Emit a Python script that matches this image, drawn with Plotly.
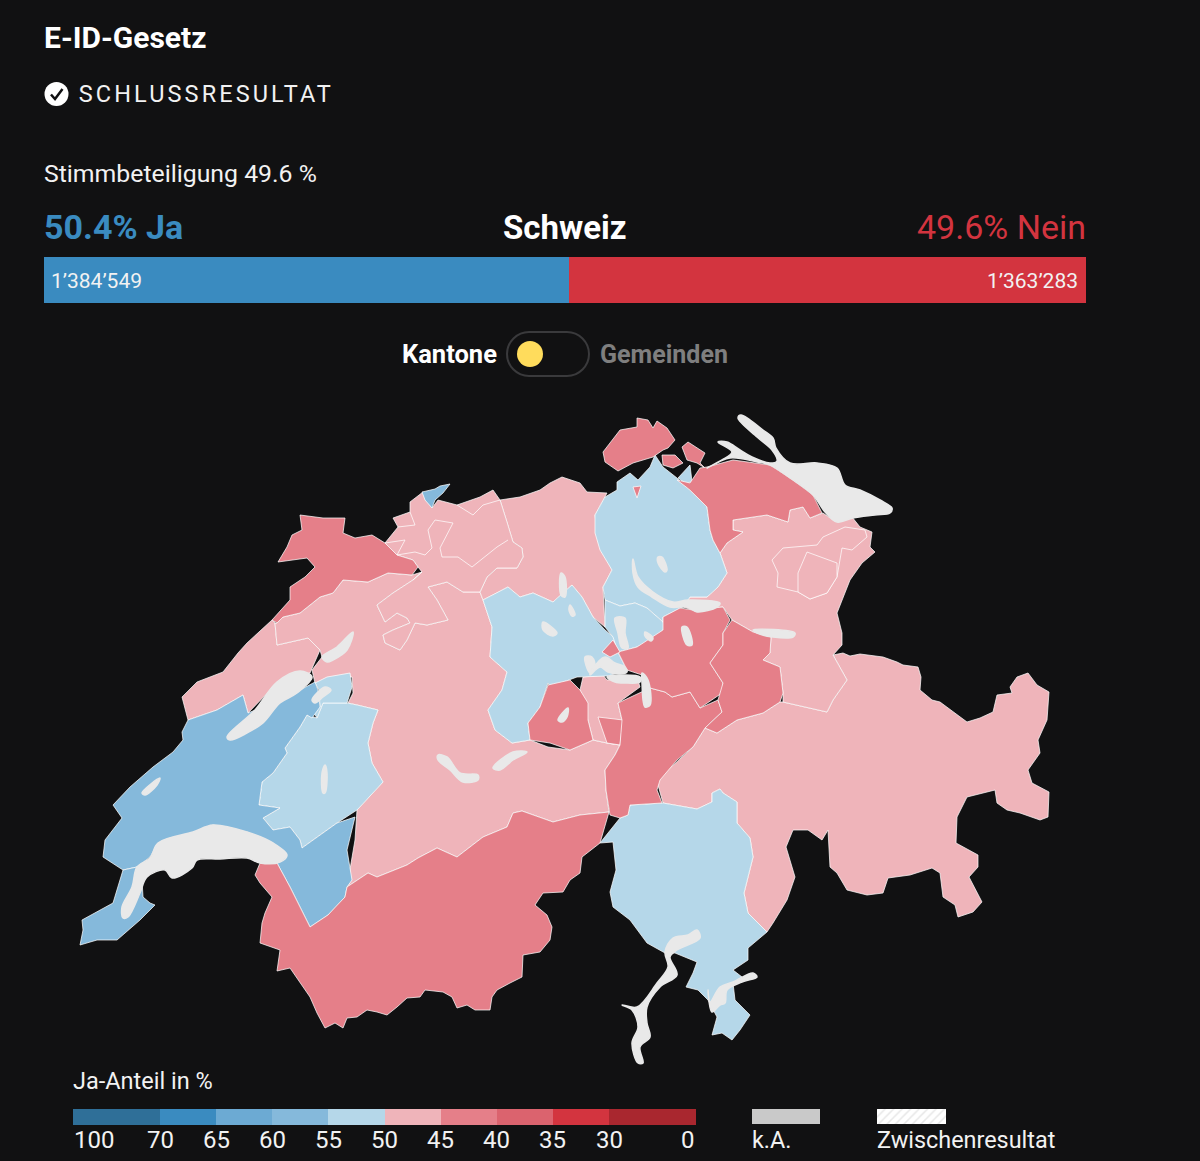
import numpy as np
import plotly.graph_objects as go

BG = "#111112"
FONT = "Roboto"

# result bar
vote_labels = ["1’384’549", "1’363’283"]
vote_values = [1384549, 1363283]
vote_colors = ["#3A8BC0", "#D3343F"]

# legend classes (Ja-Anteil in %)
legend_ticks = ["100", "70", "65", "60", "55", "50", "45", "40", "35", "30", "0"]
legend_widths = [1.55, 1, 1, 1, 1, 1, 1, 1, 1, 1.55]
legend_colors = ["#2F6F98", "#3A8BC0", "#6CAAD3", "#85B9DB", "#B5D7E9",
                 "#EFB4BA", "#E57F89", "#DB636E", "#D3343F", "#A9272F"]
LAKE = "#E9E9E9"

# outlines, in picture pixels
graubuenden = [(657,780),(693,747),(705,728),(717,733),(737,720),(763,713),(780,702),(783,702),(827,712),(833,700),(847,680),(833,655),(843,653),(850,656),(860,654),(870,655),(883,657),(897,662),(903,665),(918,667),(921,677),(920,690),(932,700),(940,702),(947,707),(957,715),(967,722),(980,718),(993,712),(997,695),(1012,693),(1010,687),(1017,677),(1028,673),(1037,685),(1049,692),(1047,720),(1038,740),(1040,753),(1028,770),(1032,783),(1049,792),(1048,817),(1040,820),(1020,813),(1007,810),(997,803),(995,790),(982,793),(967,797),(957,817),(956,843),(978,855),(978,867),(969,877),(982,902),(973,912),(958,917),(955,905),(943,897),(940,873),(932,868),(910,875),(888,878),(883,893),(867,895),(847,890),(837,873),(830,867),(828,830),(822,840),(808,830),(793,830),(786,847),(795,877),(787,900),(773,923),(767,932),(748,913),(744,893),(753,857),(750,838),(737,823),(737,802),(723,793),(720,789),(712,793),(712,802),(697,809),(663,803),(658,785)]
tessin = [(663,803),(630,805),(628,815),(620,818),(600,843),(613,842),(616,870),(610,892),(613,907),(630,920),(647,943),(665,953),(675,953),(697,962),(693,973),(686,987),(698,990),(708,1000),(717,1017),(712,1035),(722,1033),(732,1040),(740,1030),(750,1015),(735,1000),(733,983),(742,977),(733,970),(748,960),(748,948),(767,932),(748,913),(744,893),(753,857),(750,838),(737,823),(737,802),(723,793),(720,789),(712,793),(712,802),(697,809)]
wallis = [(255,875),(260,863),(277,863),(290,887),(310,927),(328,915),(345,897),(347,887),(368,873),(377,877),(407,865),(418,858),(437,848),(457,857),(483,837),(507,827),(513,813),(522,811),(553,822),(580,815),(609,812),(600,843),(582,857),(580,873),(570,880),(563,892),(543,893),(535,905),(547,915),(552,927),(550,940),(540,952),(523,955),(522,977),(510,983),(497,990),(492,997),(490,1010),(475,1010),(467,1005),(457,1008),(452,997),(443,992),(425,990),(420,997),(407,998),(397,1007),(387,1015),(377,1012),(367,1010),(357,1017),(347,1018),(343,1028),(335,1023),(325,1028),(317,1013),(310,997),(300,983),(290,968),(277,971),(280,950),(260,943),(262,923),(265,913),(272,897),(260,883)]
jura = [(300,515),(323,518),(345,518),(343,533),(355,538),(372,535),(385,543),(397,555),(413,560),(418,567),(412,575),(388,573),(368,582),(343,580),(333,593),(320,597),(300,613),(283,617),(277,623),(272,620),(290,600),(290,587),(305,577),(315,567),(307,558),(278,562),(287,547),(292,535),(302,530)]
neuenburg = [(272,620),(247,643),(238,653),(223,672),(197,682),(182,697),(188,720),(217,710),(243,695),(248,713),(280,680),(310,673),(320,650),(308,638),(277,645),(275,623)]
bern = [(277,623),(283,617),(300,613),(320,597),(333,593),(343,580),(368,582),(388,573),(412,575),(422,572),(413,580),(393,593),(377,605),(385,622),(397,613),(407,618),(410,623),(393,630),(383,635),(385,643),(400,650),(407,640),(415,623),(427,625),(448,620),(437,600),(428,587),(447,582),(463,592),(480,592),(483,600),(492,627),(490,657),(507,672),(502,690),(488,710),(495,730),(512,743),(530,740),(548,747),(570,750),(593,740),(607,743),(620,745),(615,755),(605,770),(606,790),(609,812),(580,815),(553,822),(522,811),(513,813),(507,827),(483,837),(457,857),(437,848),(418,858),(407,865),(377,877),(368,873),(347,887),(355,840),(357,810),(383,782),(372,763),(368,743),(373,723),(378,710),(357,705),(348,703),(353,693),(352,677),(340,677),(330,680),(315,683),(312,670),(322,657),(320,650),(308,638),(277,645),(275,623)]
freiburg = [(262,782),(259,805),(280,808),(263,818),(273,830),(290,827),(300,840),(302,848),(313,840),(337,823),(357,810),(383,782),(372,763),(368,743),(373,723),(378,710),(357,705),(347,703),(323,703),(317,718),(307,715),(300,727),(285,748),(287,753),(273,773)]
freiburg_nord = [(315,683),(327,677),(350,673),(352,687),(347,703),(323,703),(317,718),(312,710),(320,707),(319,690)]
freiburg_west = [(258,733),(280,717),(282,707),(290,697),(296,705),(285,715),(285,735),(275,745),(263,742)]
freiburg_klein = [(250,757),(255,753),(258,757),(265,755),(270,747),(278,752),(272,762),(262,758),(255,763)]
waadt = [(188,720),(182,732),(183,740),(173,752),(153,767),(130,787),(113,805),(122,818),(105,840),(103,857),(123,870),(137,867),(150,857),(157,845),(193,833),(213,825),(247,832),(273,843),(287,855),(277,863),(290,887),(310,927),(328,915),(345,897),(347,887),(352,880),(347,850),(355,817),(337,823),(313,840),(302,848),(300,840),(290,827),(273,830),(263,818),(280,808),(259,805),(262,782),(273,773),(287,753),(285,748),(300,727),(307,715),(312,718),(320,707),(318,690),(315,682),(300,690),(280,700),(248,713),(243,695),(217,710)]
genf = [(123,870),(118,887),(113,903),(82,920),(83,930),(80,945),(97,940),(117,940),(140,920),(155,905),(150,903),(143,897),(142,880),(137,867)]
luzern = [(483,600),(508,587),(520,597),(533,593),(553,602),(572,585),(582,597),(593,617),(605,630),(615,638),(618,652),(627,670),(608,676),(583,677),(577,677),(550,687),(548,683),(540,707),(528,723),(530,740),(512,743),(495,730),(488,710),(502,690),(507,672),(490,657),(492,627)]
obwalden = [(548,685),(570,680),(580,690),(588,703),(588,720),(593,740),(570,750),(550,743),(530,740),(528,723),(540,707)]
engelberg = [(598,717),(623,720),(620,745),(607,743)]
nidwalden = [(580,690),(583,677),(603,675),(607,680),(637,677),(640,687),(618,703),(622,720),(620,745),(607,743),(593,740),(588,720)]
uri = [(618,703),(650,688),(665,692),(672,697),(690,692),(700,708),(718,700),(722,712),(705,728),(693,747),(677,760),(660,780),(657,790),(662,803),(630,805),(628,815),(620,818),(610,815),(606,790),(605,770),(615,755),(620,745),(622,720)]
schwyz = [(663,617),(680,608),(693,610),(723,607),(730,620),(723,633),(723,645),(710,663),(723,683),(722,693),(700,708),(690,692),(672,697),(665,692),(650,688),(642,675),(627,670),(618,652),(637,647),(663,630)]
kuessnacht = [(602,652),(613,640),(620,652),(610,657)]
glarus = [(732,620),(753,632),(771,637),(770,653),(763,660),(780,667),(783,693),(780,702),(763,713),(737,720),(717,733),(705,728),(722,712),(718,700),(723,683),(710,663),(723,645),(723,633)]
zuerich = [(655,455),(663,467),(677,478),(690,490),(698,498),(707,507),(710,530),(713,540),(720,553),(727,573),(718,587),(707,597),(690,597),(683,607),(663,617),(663,622),(647,608),(635,603),(620,606),(605,600),(603,587),(612,570),(600,550),(595,533),(595,515),(605,497),(617,490),(617,482),(630,473),(638,480),(650,467)]
zuerich_nord = [(678,478),(690,465),(692,482),(685,483)]
zug = [(605,600),(620,606),(635,603),(647,608),(663,622),(665,627),(657,637),(637,647),(618,652),(613,637),(605,627)]
aargau = [(550,483),(562,477),(580,483),(587,492),(607,493),(595,515),(598,540),(612,570),(603,587),(605,627),(593,617),(582,597),(572,585),(553,602),(533,593),(520,597),(508,587),(483,600),(480,592),(487,577),(497,568),(517,568),(523,557),(522,548),(513,542),(507,522),(500,500),(520,497),(540,490)]
solothurn_baselland = [(385,543),(398,527),(393,518),(410,512),(410,502),(423,492),(432,508),(438,500),(457,505),(480,497),(493,490),(500,500),(507,522),(513,542),(522,548),(523,557),(517,568),(497,568),(487,577),(480,592),(463,592),(447,582),(428,587),(437,600),(448,620),(427,625),(415,623),(407,640),(400,650),(385,643),(383,635),(393,630),(410,623),(407,618),(397,613),(385,622),(377,605),(393,593),(413,580),(422,572),(418,567),(413,560),(397,555)]
baselstadt = [(422,492),(435,489),(440,486),(450,484),(443,493),(435,500),(432,508),(425,500)]
schaffhausen = [(603,452),(620,430),(637,427),(637,418),(648,420),(653,428),(657,421),(667,428),(675,440),(668,448),(663,450),(653,457),(633,463),(618,471),(605,462)]
stein = [(662,455),(675,455),(683,463),(673,468),(663,465)]
rafz = [(682,447),(688,442),(705,453),(700,463),(705,468),(697,463),(687,460)]
thurgau = [(677,480),(690,483),(700,468),(707,467),(733,460),(770,465),(793,480),(813,495),(822,513),(810,518),(803,507),(790,510),(788,522),(767,515),(733,520),(733,530),(743,532),(727,543),(720,553),(713,540),(710,530),(707,507),(698,498),(690,490)]
thurgau_insel = [(633,487),(641,486),(637,498)]
stgallen = [(733,520),(767,515),(788,522),(790,510),(803,507),(810,518),(823,513),(833,520),(852,517),(860,527),(872,532),(870,547),(875,552),(862,563),(850,580),(843,597),(837,613),(842,633),(842,645),(833,655),(847,680),(833,700),(827,712),(783,702),(783,693),(780,667),(763,660),(770,653),(771,637),(753,632),(732,620),(723,607),(693,610),(683,607),(690,597),(707,597),(718,587),(727,573),(720,553),(727,543),(743,532),(733,530)]
appenzell = [(772,560),(783,548),(817,545),(823,537),(845,527),(865,530),(867,537),(852,550),(842,548),(837,577),(827,593),(810,599),(798,592),(777,587),(778,573)]
innerrhoden = [(807,552),(837,563),(837,577),(827,593),(810,599),(798,592),(798,573)]

ja_45_50 = [graubuenden, neuenburg, bern, aargau, solothurn_baselland, nidwalden, stgallen, appenzell, innerrhoden]
ja_50_55 = [tessin, freiburg, freiburg_nord, freiburg_west, freiburg_klein, luzern, zuerich, zuerich_nord, zug]
ja_55_60 = [waadt, genf, baselstadt]
ja_40_45 = [wallis, jura, obwalden, engelberg, uri, schwyz, kuessnacht, glarus, schaffhausen, stein, rafz, thurgau, thurgau_insel]

# inner borders of the north-west cantons
solothurn_lines = [
    [(435,520),(453,523),(440,548),(442,557),(458,557),(472,567),(497,547),(508,540)],
    [(385,543),(405,540),(397,555)],
    [(397,555),(415,552),(425,555),(432,548),(428,530),(435,520)],
    [(410,512),(415,525),(398,527)],
    [(457,505),(473,515),(483,505),(500,500)],
    [(422,572),(413,580)],
]

lakes = [
    [(741,415),(763,430),(773,438),(776,448),(790,463),(817,463),(837,468),(845,485),(860,490),(880,500),(892,508),(890,513),(875,515),(853,518),(837,522),(825,512),(813,495),(793,480),(770,465),(757,462),(730,458),(707,468),(722,460),(732,452),(718,442),(727,442),(740,450),(752,457),(770,463),(777,461),(772,450),(757,437),(738,418)],
    [(123,918),(122,907),(132,887),(137,867),(150,858),(158,843),(193,832),(213,825),(247,832),(273,843),(287,855),(280,862),(260,863),(247,858),(220,859),(197,860),(192,868),(172,878),(165,870),(147,877),(140,893),(128,917)],
    [(697,930),(700,938),(677,950),(670,957),(677,975),(660,987),(647,1007),(647,1023),(650,1037),(640,1047),(643,1063),(638,1063),(632,1043),(638,1027),(632,1010),(622,1005),(637,1007),(657,983),(668,967),(665,952),(673,938),(688,935)],
    [(757,977),(742,982),(727,990),(725,1003),(720,1005),(712,1012),(708,990),(710,1002),(720,987),(733,982),(753,973)],
    [(227,737),(255,710),(277,682),(300,671),(312,677),(297,693),(280,703),(263,723),(247,733),(230,740)],
    [(312,700),(325,687),(331,690),(323,697),(315,703)],
    [(322,657),(337,647),(353,632),(347,650),(333,660),(327,662)],
    [(438,755),(447,757),(460,773),(478,775),(478,780),(463,782),(450,770),(438,760)],
    [(493,768),(513,752),(527,752),(513,760),(500,770)],
    [(633,559),(638,577),(653,592),(673,602),(688,600),(720,603),(717,607),(697,612),(687,607),(670,607),(652,597),(638,587),(633,573)],
    [(658,557),(662,557),(667,570),(665,572),(658,563)],
    [(753,630),(795,633),(793,637),(773,637),(757,633)],
    [(561,573),(565,577),(565,597),(561,595)],
    [(543,622),(557,633),(553,636),(543,630)],
    [(570,605),(575,615),(572,616),(569,610)],
    [(615,618),(625,618),(625,633),(628,648),(622,648),(618,633)],
    [(645,632),(653,638),(651,641),(645,636)],
    [(682,627),(687,627),(692,645),(687,645)],
    [(585,657),(592,657),(595,668),(590,673)],
    [(592,670),(605,657),(615,663),(625,667),(627,672),(620,674),(608,672),(600,667),(590,675)],
    [(607,677),(620,675),(640,677),(640,682),(625,683),(615,682)],
    [(642,673),(648,680),(650,705),(645,707),(642,683)],
    [(558,720),(568,708),(567,717),(562,722)],
    [(142,793),(160,778),(157,785),(145,795)],
    [(325,765),(327,773),(325,793),(323,793),(322,773)],
]

fig = go.Figure()


def add_area(points, color, line="rgba(255,255,255,0.72)", shape="linear", width=1):
    xs, ys = zip(*points)
    fig.add_trace(go.Scatter(x=list(xs) + [xs[0]], y=list(ys) + [ys[0]], mode="lines",
                             fill="toself", fillcolor=color,
                             line=dict(color=line, width=width, shape=shape),
                             hoverinfo="skip", showlegend=False))


for group, color in [(ja_45_50, legend_colors[5]), (ja_50_55, legend_colors[4]),
                     (ja_55_60, legend_colors[3]), (ja_40_45, legend_colors[6])]:
    for area in group:
        add_area(area, color)
for piece in solothurn_lines:
    xs, ys = zip(*piece)
    fig.add_trace(go.Scatter(x=xs, y=ys, mode="lines", hoverinfo="skip", showlegend=False,
                             line=dict(color="rgba(255,255,255,0.72)", width=1)))
for lake in lakes:
    add_area(lake, LAKE, line=LAKE, shape="spline", width=1.5)

# result bar
fig.add_trace(go.Bar(x=vote_values, base=[0, vote_values[0]], y=[0, 0], orientation="h", width=1,
                     marker=dict(color=vote_colors, line_width=0), hoverinfo="skip",
                     showlegend=False, xaxis="x2", yaxis="y2"))
# colour legend
legend_edges = np.cumsum([0] + legend_widths)
fig.add_trace(go.Bar(x=legend_widths, base=legend_edges[:-1], y=[0] * len(legend_widths),
                     orientation="h", width=1, marker=dict(color=legend_colors, line_width=0),
                     hoverinfo="skip", showlegend=False, xaxis="x3", yaxis="y3"))
# k.A. and Zwischenresultat swatches
fig.add_trace(go.Bar(x=[68], base=[752], y=[1116.5], width=15, orientation="h", marker=dict(color="#C9C9C9", line_width=0),
                     hoverinfo="skip", showlegend=False))
fig.add_trace(go.Bar(x=[69], base=[877], y=[1116.5], width=15, orientation="h",
                     marker=dict(color="#FFFFFF", line_width=0,
                                 pattern=dict(shape="/", fgcolor="#CFCFCF", bgcolor="#FFFFFF", size=6, solidity=0.25)),
                     hoverinfo="skip", showlegend=False))

# toggle knob and status icon
fig.add_trace(go.Scatter(x=[530], y=[354], mode="markers", hoverinfo="skip", showlegend=False,
                         marker=dict(size=26, color="#FFDC5C", line_width=0)))
fig.add_trace(go.Scatter(x=[56.5], y=[94], mode="markers", hoverinfo="skip", showlegend=False,
                         marker=dict(size=24, color="#FFFFFF", line_width=0)))

shapes = [
    dict(type="path",
         path="M 529 332 H 567 C 579 332 589 342 589 354 C 589 366 579 376 567 376 H 529 C 517 376 507 366 507 354 C 507 342 517 332 529 332 Z",
         xref="x", yref="y", line=dict(color="#3A3A3C", width=2), fillcolor=BG, layer="below"),
    dict(type="path", path="M 51 94.5 L 55 99 L 62.5 89", xref="x", yref="y",
         line=dict(color=BG, width=2.5), layer="above"),
]


def label(text, x, y, size, color="#FFFFFF", anchor="left", bold=False, family=FONT, xref="x"):
    if bold:
        text = "<b>" + text + "</b>"
    return dict(text=text, x=x, y=y, xref=xref, yref="y", xanchor=anchor, yanchor="middle", showarrow=False,
                borderpad=0, font=dict(family=family, size=size, color=color))


annotations = [
    label("E-ID-Gesetz", 43, 37, 30, bold=True),
    label("SCHLUSSRESULTAT", 101, 94, 23.5, color="#F2F2F2"),
    label("Stimmbeteiligung 49.6 %", 43, 173, 24.8, color="#F2F2F2"),
    label("50.4% Ja", 43, 227, 34, color=vote_colors[0], bold=True),
    label("Schweiz", 565, 227, 33, anchor="center", bold=True),
    label("49.6% Nein", 1087, 227, 34, color=vote_colors[1], anchor="right"),
    label(vote_labels[0], 50, 281, 21, color="#F2F2F2"),
    label(vote_labels[1], 1079, 281, 21, color="#F2F2F2", anchor="right"),
    label("Kantone", 498, 354, 25.5, anchor="right", bold=True),
    label("Gemeinden", 599, 354, 25, color="#7F7F7F", bold=True),
    label("Ja-Anteil in %", 72, 1081, 23.5, color="#F2F2F2"),
    label("k.A.", 751, 1140, 23.4, color="#F2F2F2"),
    label("Zwischenresultat", 876, 1140, 23.4, color="#F2F2F2"),
]
for i, tick in enumerate(legend_ticks):
    anchor = "left" if i == 0 else ("right" if i == len(legend_ticks) - 1 else "center")
    annotations.append(label(tick, legend_edges[i], 1140, 24, color="#F2F2F2", anchor=anchor, xref="x3"))

hidden = dict(visible=False, fixedrange=True)
fig.update_layout(
    width=1200, height=1161, margin=dict(l=0, r=0, t=0, b=0),
    paper_bgcolor=BG, plot_bgcolor=BG, showlegend=False, bargap=0, barmode="overlay",
    shapes=shapes, annotations=annotations,
    xaxis=dict(range=[0, 1200], domain=[0, 1], **hidden),
    yaxis=dict(range=[1161, 0], domain=[0, 1], **hidden),
    xaxis2=dict(range=[0, sum(vote_values)], domain=[44 / 1200, 1086 / 1200], anchor="y2", **hidden),
    yaxis2=dict(range=[-0.5, 0.5], domain=[1 - 303 / 1161, 1 - 257 / 1161], anchor="x2", **hidden),
    xaxis3=dict(range=[0, sum(legend_widths)], domain=[73 / 1200, 696 / 1200], anchor="y3", **hidden),
    yaxis3=dict(range=[-0.5, 0.5], domain=[1 - 1125 / 1161, 1 - 1109 / 1161], anchor="x3", **hidden),
)

# no letter spacing option in plotly text, so it is set once the page is drawn
post = """
document.body.style.margin = '0';
document.body.style.background = '#111112';
document.querySelectorAll('.annotation-text').forEach(function (t) {
  if (t.textContent === 'SCHLUSSRESULTAT') { t.style.letterSpacing = '3.1px'; }
});
"""
fig.write_html("out.html", post_script=post, config=dict(displayModeBar=False))
